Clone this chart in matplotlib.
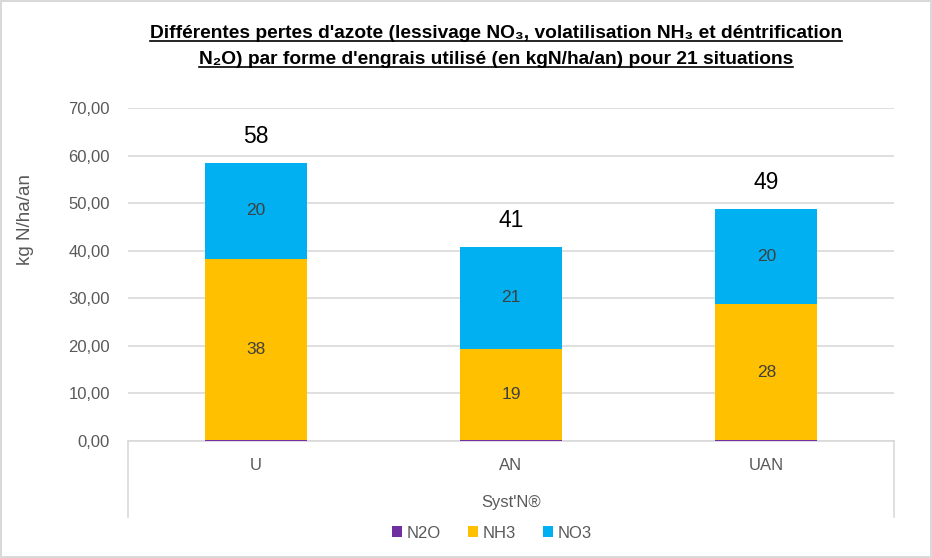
import matplotlib
matplotlib.use("Agg")
import matplotlib.pyplot as plt
from matplotlib.lines import Line2D
from matplotlib.ticker import FuncFormatter, MultipleLocator

plt.rcParams["font.family"] = ["Liberation Sans", "DejaVu Sans"]

# ---------- data ----------
categories = ["U", "AN", "UAN"]
n2o = [0.3, 0.3, 0.3]
nh3 = [38.0, 19.1, 28.4]
no3 = [20.1, 21.4, 20.0]
group_label = "Syst'N®"

colors = {"N2O": "#7030A0", "NH3": "#FFC000", "NO3": "#00B0F0"}
grey = "#595959"

fig = plt.figure(figsize=(9.32, 5.58), dpi=100)
fig.patch.set_edgecolor("#D9D9D9")
fig.patch.set_linewidth(1.5)
ax = fig.add_axes([128 / 932, 1 - 441 / 558, (894 - 128) / 932, (441 - 108) / 558])

x = range(len(categories))
w = 0.4
bottom_nh3 = n2o
bottom_no3 = [a + b for a, b in zip(n2o, nh3)]
ax.bar(x, n2o, w, color=colors["N2O"], label="N2O", zorder=3)
ax.bar(x, nh3, w, bottom=bottom_nh3, color=colors["NH3"], label="NH3", zorder=3)
ax.bar(x, no3, w, bottom=bottom_no3, color=colors["NO3"], label="NO3", zorder=3)

# segment labels
for i in x:
    ax.text(i, bottom_nh3[i] + nh3[i] / 2, f"{nh3[i]:.0f}", ha="center", va="center",
            fontsize=12.5, color="#404040", zorder=4)
    ax.text(i, bottom_no3[i] + no3[i] / 2, f"{no3[i]:.0f}", ha="center", va="center",
            fontsize=12.5, color="#404040", zorder=4)
    total = n2o[i] + nh3[i] + no3[i]
    ax.text(i, total + 5.6, f"{total:.0f}", ha="center", va="center",
            fontsize=16.5, color="black", zorder=4)

# ---------- axes ----------
ax.set_xlim(-0.5, 2.5)
ax.set_ylim(0, 70)
ax.yaxis.set_major_locator(MultipleLocator(10))
ax.yaxis.set_major_formatter(FuncFormatter(lambda v, p: f"{v:.2f}".replace(".", ",")))
ax.grid(axis="y", color="#D9D9D9", linewidth=1.2, zorder=0)
for s in ["top", "right", "left"]:
    ax.spines[s].set_visible(False)
ax.spines["bottom"].set_color("#D9D9D9")
ax.spines["bottom"].set_linewidth(1.2)
ax.tick_params(axis="y", length=0, pad=13, labelsize=12, labelcolor=grey)
ax.tick_params(axis="x", length=0, pad=12, labelsize=12, labelcolor=grey)
ax.set_xticks(list(x))
ax.set_xticklabels(categories)
fig.text(25 / 932, 1 - 220 / 558, "kg N/ha/an", rotation=90, ha="center", va="center",
         fontsize=13.5, color=grey)

# multi-level category box
for xv in (-0.5, 2.5):
    ax.add_line(Line2D([xv, xv], [0, -16], transform=ax.transData, color="#D9D9D9",
                       linewidth=1.2, clip_on=False))
fig.text(511 / 932, 1 - 502 / 558, group_label, ha="center", va="center",
         fontsize=12, color=grey)

leg = fig.legend(loc="center", bbox_to_anchor=(492 / 932, 1 - 533 / 558), ncol=3,
                 frameon=False, fontsize=12, handlelength=0.6, handleheight=0.6,
                 handletextpad=0.3, columnspacing=1.6, labelcolor=grey)

# ---------- title (bold + underlined) ----------
lines = ["Différentes pertes d'azote (lessivage NO₃, volatilisation NH₃ et déntrification",
         "N₂O) par forme d'engrais utilisé (en kgN/ha/an) pour 21 situations"]
tts = []
for j, t in enumerate(lines):
    tts.append(fig.text(496 / 932, 1 - (33 + 26 * j) / 558, t, ha="center", va="center",
                        fontsize=13.8, fontweight="bold", color="black"))
fig.canvas.draw()
r = fig.canvas.get_renderer()
for t in tts:
    bb = t.get_window_extent(r)
    yy = bb.y0 + 1
    fig.add_artist(Line2D([bb.x0 / fig.bbox.width, bb.x1 / fig.bbox.width],
                          [yy / fig.bbox.height] * 2, transform=fig.transFigure,
                          color="black", linewidth=1.2))

fig.savefig("out.png", dpi=100)
